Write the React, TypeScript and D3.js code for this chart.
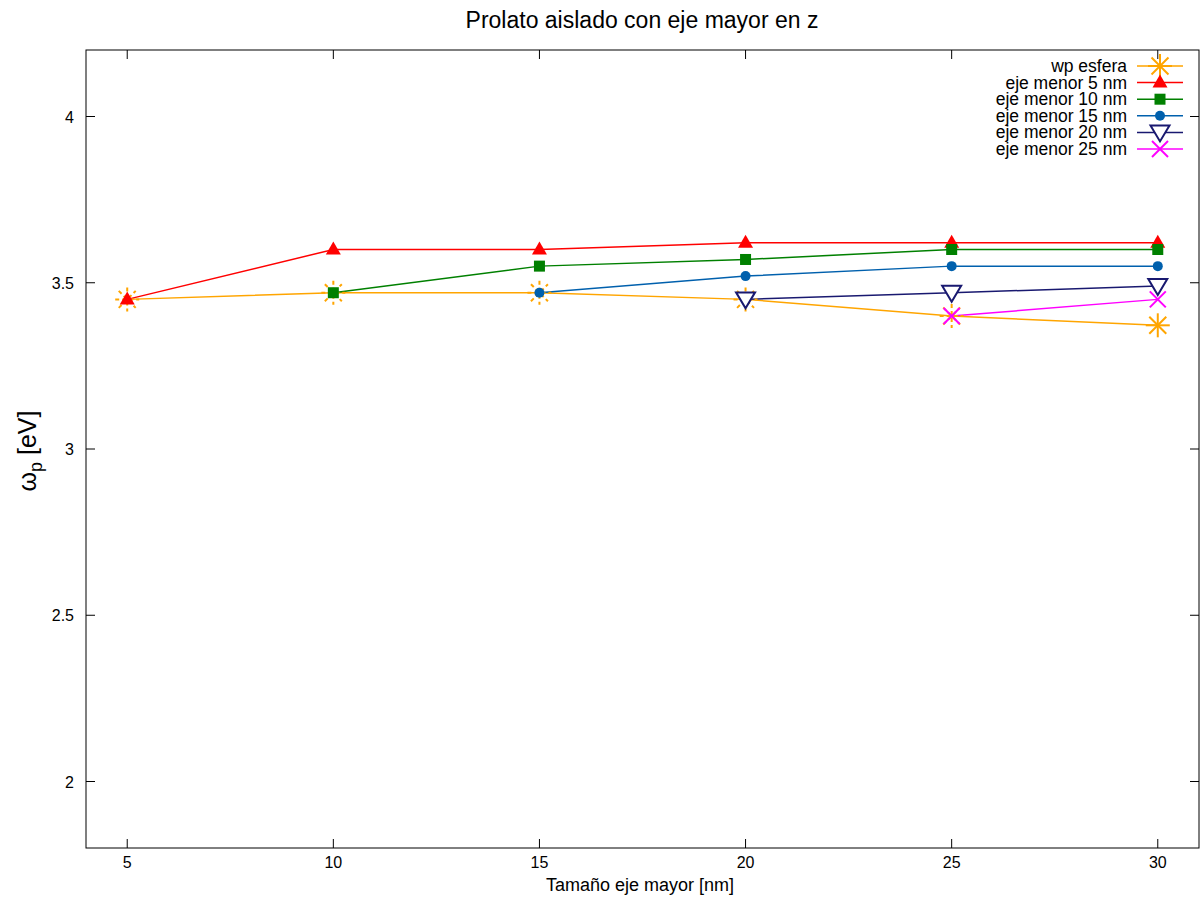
import React from 'react';
import * as d3 from 'd3';

const W = 1201;
const H = 901;
const margin = { left: 86, right: 1199, top: 50, bottom: 848 };

const xTicks = [5, 10, 15, 20, 25, 30];
const yTicks = [2, 2.5, 3, 3.5, 4];

const sizes = [5, 10, 15, 20, 25, 30];
const wpEsfera = [3.45, 3.47, 3.47, 3.45, 3.40, 3.372];
const menor5 = [3.45, 3.6, 3.6, 3.62, 3.62, 3.62];
const menor10 = [null, 3.47, 3.55, 3.57, 3.6, 3.6];
const menor15 = [null, null, 3.47, 3.52, 3.55, 3.55];
const menor20 = [null, null, null, 3.45, 3.47, 3.49];
const menor25 = [null, null, null, null, 3.40, 3.45];

type Marker = 'star' | 'tri' | 'square' | 'circle' | 'itri' | 'x';

const seriesList: { name: string; values: (number | null)[]; color: string; marker: Marker }[] = [
	{ name: 'wp esfera', values: wpEsfera, color: '#ffa500', marker: 'star' },
	{ name: 'eje menor 5 nm', values: menor5, color: '#ff0000', marker: 'tri' },
	{ name: 'eje menor 10 nm', values: menor10, color: '#008000', marker: 'square' },
	{ name: 'eje menor 15 nm', values: menor15, color: '#0060ad', marker: 'circle' },
	{ name: 'eje menor 20 nm', values: menor20, color: '#191970', marker: 'itri' },
	{ name: 'eje menor 25 nm', values: menor25, color: '#ff00ff', marker: 'x' },
];

const font = '"Liberation Sans", Arial, sans-serif';

function drawMarker(m: Marker, color: string, cx: number, cy: number, dashed: boolean, key: string) {
	switch (m) {
		case 'star': {
			const r = 12;
			const d = r * 0.7071;
			return (
				<g key={key} stroke={color} strokeWidth={2} strokeDasharray={dashed ? '4,3' : undefined}>
					<line x1={cx - r} y1={cy} x2={cx + r} y2={cy} />
					<line x1={cx} y1={cy - r} x2={cx} y2={cy + r} />
					<line x1={cx - d} y1={cy - d} x2={cx + d} y2={cy + d} />
					<line x1={cx - d} y1={cy + d} x2={cx + d} y2={cy - d} />
				</g>
			);
		}
		case 'tri':
			return <path key={key} d={`M${cx},${cy - 8}L${cx + 7.5},${cy + 5}L${cx - 7.5},${cy + 5}Z`} fill={color} />;
		case 'square':
			return <rect key={key} x={cx - 5.5} y={cy - 5.5} width={11} height={11} fill={color} />;
		case 'circle':
			return <circle key={key} cx={cx} cy={cy} r={5} fill={color} />;
		case 'itri':
			return (
				<path key={key} d={`M${cx - 9.5},${cy - 7}L${cx + 9.5},${cy - 7}L${cx},${cy + 9}Z`}
					fill="white" stroke={color} strokeWidth={2} />
			);
		case 'x':
			return (
				<g key={key} stroke={color} strokeWidth={2}>
					<line x1={cx - 8} y1={cy - 8} x2={cx + 8} y2={cy + 8} />
					<line x1={cx - 8} y1={cy + 8} x2={cx + 8} y2={cy - 8} />
				</g>
			);
	}
}

export default function App() {
	const x = d3.scaleLinear().domain([4, 31]).range([margin.left, margin.right]);
	const y = d3.scaleLinear().domain([1.8, 4.2]).range([margin.bottom, margin.top]);

	const line = d3.line<[number, number | null]>()
		.defined((d) => d[1] !== null)
		.x((d) => x(d[0]))
		.y((d) => y(d[1] as number));

	const tickLen = 9;
	const legendY0 = 66;
	const legendStep = 16.6;

	return (
		<svg width={W} height={H} style={{ position: 'absolute', left: 0, top: 0 }} fontFamily={font}>
			<rect width={W} height={H} fill="white" />
			<text x={642} y={28} textAnchor="middle" fontSize={23}>Prolato aislado con eje mayor en z</text>

			{/* ticks, mirrored */}
			<g stroke="black" strokeWidth={1}>
				{xTicks.map((t) => (
					<g key={`xt${t}`}>
						<line x1={x(t)} x2={x(t)} y1={margin.bottom} y2={margin.bottom - tickLen} />
						<line x1={x(t)} x2={x(t)} y1={margin.top} y2={margin.top + tickLen} />
					</g>
				))}
				{yTicks.map((t) => (
					<g key={`yt${t}`}>
						<line x1={margin.left} x2={margin.left + tickLen} y1={y(t)} y2={y(t)} />
						<line x1={margin.right} x2={margin.right - tickLen} y1={y(t)} y2={y(t)} />
					</g>
				))}
			</g>
			<g fontSize={16} fill="black">
				{xTicks.map((t) => (
					<text key={`xl${t}`} x={x(t)} y={868} textAnchor="middle">{t}</text>
				))}
				{yTicks.map((t) => (
					<text key={`yl${t}`} x={74} y={y(t) + 6} textAnchor="end">{t}</text>
				))}
			</g>

			<text x={640} y={891} textAnchor="middle" fontSize={18}>Tamaño eje mayor [nm]</text>
			<text transform="translate(36,451)rotate(-90)" textAnchor="middle" fontSize={25}>
				ω<tspan fontSize={18} dy={6}>p</tspan><tspan dy={-6}> [eV]</tspan>
			</text>

			{/* series */}
			{seriesList.map((s) => (
				<path key={`l${s.name}`}
					d={line(sizes.map((v, i) => [v, s.values[i]] as [number, number | null])) || ''}
					fill="none" stroke={s.color} strokeWidth={1.5} />
			))}
			{seriesList.map((s) => (
				<g key={`m${s.name}`}>
					{s.values.map((v, i) => v === null ? null :
						drawMarker(s.marker, s.color, x(sizes[i]), y(v), s.marker === 'star' && i < sizes.length - 1, `${s.name}${i}`))}
				</g>
			))}

			{/* legend */}
			{seriesList.map((s, i) => {
				const ly = legendY0 + i * legendStep;
				return (
					<g key={`lg${s.name}`}>
						<text x={1127} y={ly + 6} textAnchor="end" fontSize={17.5}>{s.name}</text>
						<line x1={1137} x2={1183} y1={ly} y2={ly} stroke={s.color} strokeWidth={1.5} />
						{drawMarker(s.marker, s.color, 1160, ly, false, `lgm${i}`)}
					</g>
				);
			})}

			<rect x={margin.left} y={margin.top} width={margin.right - margin.left} height={margin.bottom - margin.top}
				fill="none" stroke="black" strokeWidth={1} />
		</svg>
	);
}
